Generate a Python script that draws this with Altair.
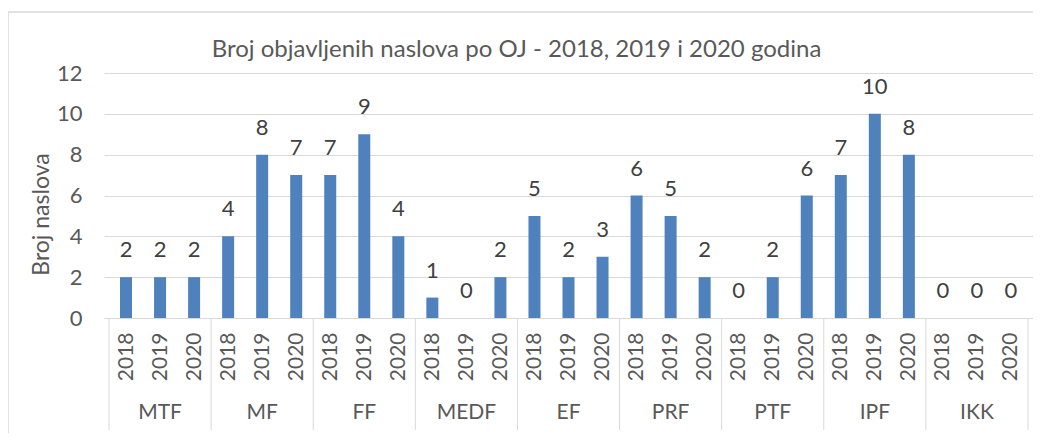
import altair as alt
import pandas as pd

groups = ["MTF", "MF", "FF", "MEDF", "EF", "PRF", "PTF", "IPF", "IKK"]
years = ["2018", "2019", "2020"]
counts = [2, 2, 2,
          4, 8, 7,
          7, 9, 4,
          1, 0, 2,
          5, 2, 3,
          6, 5, 2,
          0, 2, 6,
          7, 10, 8,
          0, 0, 0]
y_ticks = [0, 2, 4, 6, 8, 10, 12]
title_text = "Broj objavljenih naslova po OJ - 2018, 2019 i 2020 godina"
y_title = "Broj naslova"

rows = []
for gi, g in enumerate(groups):
    for yi, yr in enumerate(years):
        i = gi * len(years) + yi
        rows.append({"group": g, "year": yr, "idx": i, "value": counts[i]})
bars_df = pd.DataFrame(rows)
grp_df = pd.DataFrame({"group": groups,
                       "center": [gi * len(years) + (len(years) - 1) / 2 for gi in range(len(groups))]})
sep_df = pd.DataFrame({"edge": [gi * len(years) - 0.5 for gi in range(len(groups) + 1)]})
box_df = pd.DataFrame({"a": [0]})

W, H = 929, 245
FONT = "Lato"
GRID = "#d9d9d9"
TXT = "#595959"
n = len(counts)

xscale = alt.Scale(domain=[-0.5, n - 0.5], nice=False, zero=False)
yscale = alt.Scale(domain=[0, 12], nice=False)

label_expr = "[" + ",".join("'%s'" % y for y in years) + "][datum.value % " + str(len(years)) + "]"

xaxis = alt.Axis(values=list(range(n)), labelExpr=label_expr, labelAngle=270,
                 labelAlign="right", labelBaseline="middle",
                 ticks=False, tickSize=0, labelPadding=14, grid=False,
                 domain=True, domainColor=GRID, domainWidth=1,
                 labelFont=FONT, labelFontSize=21, labelColor=TXT,
                 labelFlush=False, labelOverlap=False, title=None)
yaxis = alt.Axis(values=y_ticks, grid=True, gridColor=GRID, gridWidth=1,
                 domain=False, ticks=False, labelPadding=22,
                 labelFont=FONT, labelFontSize=22, labelColor=TXT,
                 title=y_title, titleFont=FONT, titleFontSize=23,
                 titleFontWeight="normal", titleColor=TXT,
                 titleAngle=270, titleX=-63, titleY=141,
                 titleAlign="center", titleBaseline="middle")

# outer chart frame (decoration, in pixels relative to the plot area)
box = alt.Chart(box_df).mark_rect(fill="transparent", stroke=GRID, strokeWidth=1.5).encode(
    x=alt.value(-96), x2=alt.value(W + 30), y=alt.value(-61), y2=alt.value(H + 140)
)

bars = alt.Chart(bars_df).mark_bar(size=12, color="#4f81bd").encode(
    x=alt.X("idx:Q", scale=xscale, axis=xaxis),
    y=alt.Y("value:Q", scale=yscale, axis=yaxis),
)

values = alt.Chart(bars_df).mark_text(dy=-27, baseline="middle", font=FONT,
                                      fontSize=22, color="#404040").encode(
    x=alt.X("idx:Q", scale=xscale, axis=xaxis),
    y=alt.Y("value:Q", scale=yscale, axis=yaxis),
    text="value:Q",
)

seps = alt.Chart(sep_df).mark_rule(color=GRID, strokeWidth=1).encode(
    x=alt.X("edge:Q", scale=xscale, axis=xaxis),
    y=alt.value(H), y2=alt.value(H + 112),
)

glabels = alt.Chart(grp_df).mark_text(baseline="middle", font=FONT, fontSize=21,
                                      color=TXT).encode(
    x=alt.X("center:Q", scale=xscale, axis=xaxis),
    y=alt.value(340),
    text="group:N",
)

chart = alt.layer(bars, values, seps, glabels).properties(
    width=W, height=H,
    title=alt.TitleParams(title_text, anchor="middle", frame="group", dx=-52, dy=75,
                          font=FONT, fontSize=24, fontWeight="normal", color=TXT,
                          baseline="bottom", offset=0),
)

full = alt.layer(box, chart).properties(
    width=W, height=H, background="white",
    autosize=alt.AutoSizeParams(type="none"),
    padding={"left": 96, "top": 65, "right": 0, "bottom": 115},
).configure_view(strokeWidth=0)

full.save("out.html", embed_options={"renderer": "svg", "actions": False})
